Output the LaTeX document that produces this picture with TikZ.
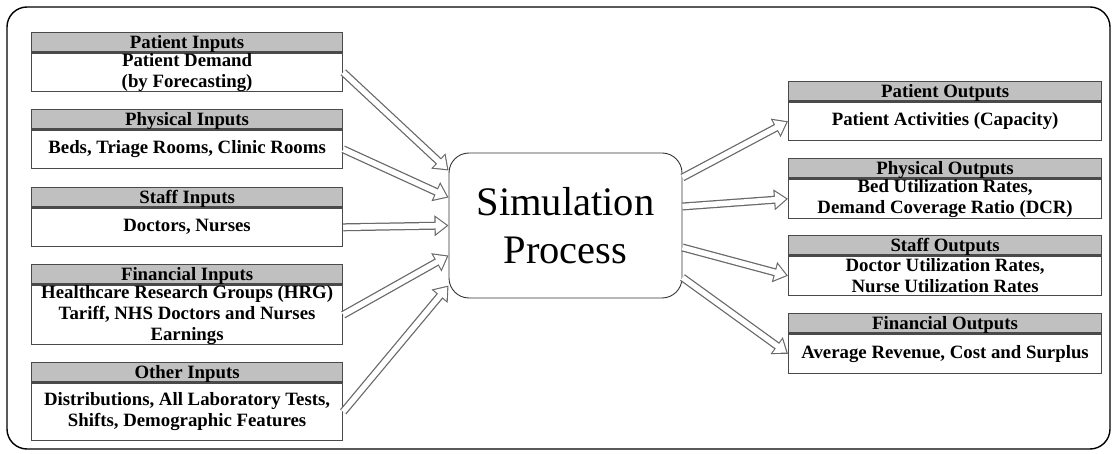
\documentclass[tikz,border=0pt]{standalone}
\usepackage{fontspec}
\setmainfont{Liberation Serif}
\usetikzlibrary{arrows.meta}

\definecolor{boxline}{HTML}{4A4A4A}
\definecolor{hdrgray}{HTML}{C0C0C0}
\definecolor{arrgray}{HTML}{686868}

\begin{document}
\begin{tikzpicture}[x=1pt, y=-1pt,
  frame/.style={draw=black, line width=1.4pt, rounded corners=20pt},
  hdr/.style={draw=boxline, fill=hdrgray, line width=1.2pt, minimum width=#1,
    minimum height=19.5pt, inner sep=0pt, anchor=north west,
    font=\bfseries\fontsize{18.8}{21}\selectfont, text height=12.4pt, text depth=0pt},
  body/.style={draw=boxline, fill=white, line width=1.2pt, minimum width=#1,
    inner sep=0pt, anchor=north west},
  btext/.style={inner sep=0pt, align=center, font=\bfseries\fontsize{18.8}{21}\selectfont},
  proc/.style={draw=black!80, line width=0.9pt, rounded corners=20pt,
    minimum width=233pt, minimum height=145pt, inner sep=0pt, align=center,
    font=\fontsize{40.5}{48.5}\selectfont},
  % hollow block arrow: grey body, then a white inset body on top
  arr/.style={draw=arrgray, line width=8pt,
    -{Triangle[length=14pt, width=20pt]},
    postaction={draw=white, line width=5.5pt,
      -{Triangle[length=11pt, width=15.7pt]}, shorten >=1.9pt}},
]
\useasboundingbox (0,0) rectangle (1117,454);

% outer frame
\draw[frame] (7,7) rectangle (1110,449);

% central process
\node[proc] (sim) at (565.5,225.5) {Simulation\\Process};

% ---- input boxes ----
\node[hdr=311pt] (in1h) at (31,32) {Patient Inputs};
\node[body=311pt, minimum height=38pt] (in1b) at (in1h.south west) {};
\node[btext] (in1t) at (in1b.center) {Patient Demand\\(by Forecasting)};

\node[hdr=311pt] (in2h) at (31,109) {Physical Inputs};
\node[body=311pt, minimum height=38pt] (in2b) at (in2h.south west) {};
\node[btext] (in2t) at (in2b.center) {Beds, Triage Rooms, Clinic Rooms};

\node[hdr=311pt] (in3h) at (31,187) {Staff Inputs};
\node[body=311pt, minimum height=38pt] (in3b) at (in3h.south west) {};
\node[btext] (in3t) at (in3b.center) {Doctors, Nurses};

\node[hdr=311pt] (in4h) at (31,264) {Financial Inputs};
\node[body=311pt, minimum height=59pt] (in4b) at (in4h.south west) {};
\node[btext] (in4t) at (in4b.center) {Healthcare Research Groups (HRG)\\Tariff, NHS Doctors and Nurses\\Earnings};

\node[hdr=311pt] (in5h) at (31,362) {Other Inputs};
\node[body=311pt, minimum height=57pt] (in5b) at (in5h.south west) {};
\node[btext] (in5t) at (in5b.center) {Distributions, All Laboratory Tests,\\Shifts, Demographic Features};

% ---- output boxes ----
\node[hdr=313pt] (out1h) at (788,81) {Patient Outputs};
\node[body=313pt, minimum height=38pt] (out1b) at (out1h.south west) {};
\node[btext] (out1t) at (out1b.center) {Patient Activities (Capacity)};

\node[hdr=313pt] (out2h) at (788,158) {Physical Outputs};
\node[body=313pt, minimum height=39pt] (out2b) at (out2h.south west) {};
\node[btext] (out2t) at (out2b.center) {Bed Utilization Rates,\\Demand Coverage Ratio (DCR)};

\node[hdr=313pt] (out3h) at (788,235) {Staff Outputs};
\node[body=313pt, minimum height=39pt] (out3b) at (out3h.south west) {};
\node[btext] (out3t) at (out3b.center) {Doctor Utilization Rates,\\Nurse Utilization Rates};

\node[hdr=313pt] (out4h) at (788,313) {Financial Outputs};
\node[body=313pt, minimum height=39pt] (out4b) at (out4h.south west) {};
\node[btext] (out4t) at (out4b.center) {Average Revenue, Cost and Surplus};

% ---- connectors ----
\draw[arr] (in1b.east) -- ([yshift=55pt]sim.west);
\draw[arr] (in2b.east) -- ([yshift=28pt]sim.west);
\draw[arr] (in3b.east) -- ([yshift=0pt]sim.west);
\draw[arr] (in4b.east) -- ([yshift=-30pt]sim.west);
\draw[arr] (in5b.east) -- ([yshift=-60pt]sim.west);

\draw[arr] ([yshift=48pt]sim.east) -- (out1b.west);
\draw[arr] ([yshift=19pt]sim.east) -- (out2b.west);
\draw[arr] ([yshift=-22pt]sim.east) -- (out3b.west);
\draw[arr] ([yshift=-52pt]sim.east) -- (out4b.west);
\end{tikzpicture}
\end{document}
